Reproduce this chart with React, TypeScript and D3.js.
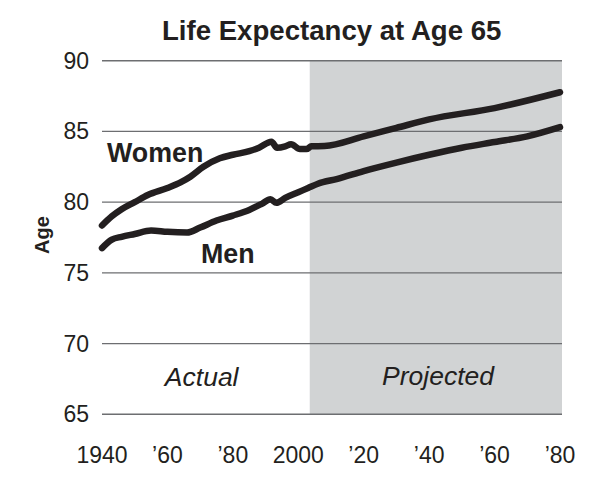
import React from "react";
import * as d3 from "d3";

const womenYears = [1940, 1943, 1946, 1950, 1954, 1960, 1964, 1967, 1971, 1976, 1980, 1985, 1988, 1991.8, 1993.5, 1996, 1997.8, 2000.5, 2002.5, 2004, 2008, 2020, 2030, 2040, 2060, 2080];
const womenValues = [78.35, 79.0, 79.5, 80.0, 80.5, 81.0, 81.4, 81.8, 82.5, 83.1, 83.35, 83.6, 83.85, 84.27, 83.85, 83.95, 84.1, 83.75, 83.75, 83.95, 83.97, 84.65, 85.25, 85.85, 86.65, 87.77];

const menYears = [1940, 1943, 1946, 1950, 1955, 1960, 1966, 1970, 1975, 1980, 1985, 1989, 1991.5, 1993.3, 1996, 2000, 2003, 2006, 2012, 2020, 2030, 2040, 2050, 2060, 2070, 2080];
const menValues = [76.75, 77.35, 77.55, 77.75, 78.0, 77.9, 77.85, 78.2, 78.7, 79.05, 79.45, 79.9, 80.2, 79.95, 80.3, 80.7, 81.0, 81.3, 81.65, 82.2, 82.8, 83.35, 83.85, 84.25, 84.65, 85.3];

const yTicks = [65, 70, 75, 80, 85, 90];
const xTickYears = [1940, 1960, 1980, 2000, 2020, 2040, 2060, 2080];
const xTickLabels = ["1940", "\u201960", "\u201980", "2000", "\u201920", "\u201940", "\u201960", "\u201980"];
const projectionStart = 2003.5;
const title = "Life Expectancy at Age 65";
const yAxisLabel = "Age";

const ink = "#231f20";
const font = "'Liberation Sans', Arial, Helvetica, sans-serif";

export default function App() {
  const x = d3.scaleLinear().domain([1940, 2080]).range([102, 560]);
  const y = d3.scaleLinear().domain([65, 90]).range([414.3, 60.7]);

  const line = d3
    .line<[number, number]>()
    .x((d) => x(d[0]))
    .y((d) => y(d[1]))
    .curve(d3.curveMonotoneX);

  const women = womenYears.map((yr, i) => [yr, womenValues[i]] as [number, number]);
  const men = menYears.map((yr, i) => [yr, menValues[i]] as [number, number]);

  const gridRight = 562;

  return (
    <svg
      width={612}
      height={494}
      style={{ position: "absolute", left: 0, top: 0, background: "#fff" }}
      fontFamily={font}
    >
      <rect
        x={x(projectionStart)}
        y={y(90)}
        width={gridRight - x(projectionStart)}
        height={y(65) - y(90)}
        fill="#d1d3d4"
      />
      {yTicks.map((t) => (
        <g key={t}>
          <line x1={x(1940)} x2={gridRight} y1={y(t)} y2={y(t)} stroke="#6d6e71" strokeWidth={1.4} />
          <text x={89} y={y(t) + 8} textAnchor="end" fontSize={23} fill={ink}>
            {t}
          </text>
        </g>
      ))}
      {xTickYears.map((yr, i) => (
        <text key={i} x={x(yr)} y={463} textAnchor="middle" fontSize={23} fill={ink}>
          {xTickLabels[i]}
        </text>
      ))}
      <path d={line(women) || ""} fill="none" stroke={ink} strokeWidth={6.5} strokeLinecap="round" strokeLinejoin="round" />
      <path d={line(men) || ""} fill="none" stroke={ink} strokeWidth={6.5} strokeLinecap="round" strokeLinejoin="round" />
      <text x={107} y={161.5} fontSize={26.8} fontWeight="bold" fill={ink}>
        Women
      </text>
      <text x={201} y={263} fontSize={26.8} fontWeight="bold" fill={ink}>
        Men
      </text>
      <text x={201.7} y={386} fontSize={26.5} fontStyle="italic" textAnchor="middle" fill={ink}>
        Actual
      </text>
      <text x={438} y={385} fontSize={26.5} fontStyle="italic" textAnchor="middle" fill={ink}>
        Projected
      </text>
      <text x={331.7} y={40} fontSize={27.6} fontWeight="bold" textAnchor="middle" fill={ink}>
        {title}
      </text>
      <text
        transform={`translate(49,235) rotate(-90)`}
        fontSize={20}
        fontWeight="bold"
        textAnchor="middle"
        fill={ink}
      >
        {yAxisLabel}
      </text>
    </svg>
  );
}
